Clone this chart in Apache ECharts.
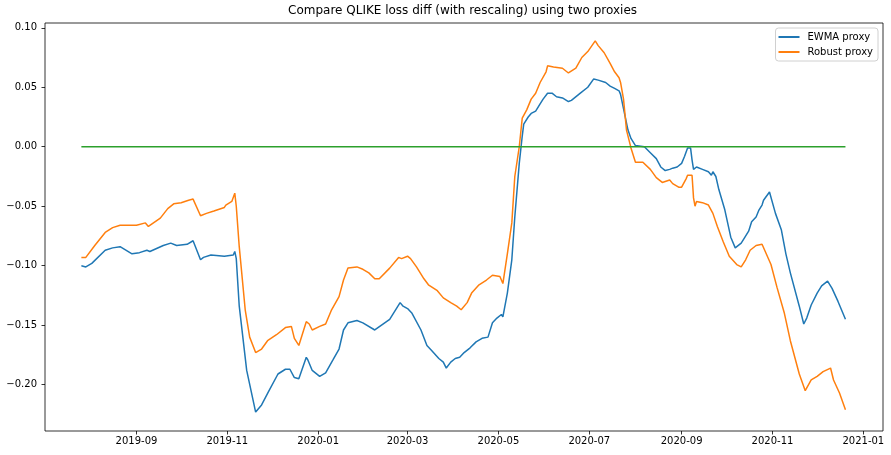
<!DOCTYPE html>
<html>
<head>
  <meta charset="utf-8">
  <script src="https://cdn.jsdelivr.net/npm/echarts@6/dist/echarts.min.js"></script>
  <style>
    body { margin: 0; background: #fff; }
    #chart { width: 891px; height: 455px; }
  </style>
</head>
<body>
  <div id="chart"></div>
  <script>
    // values
    var ewmaDates = ['2019-07-26','2019-07-29','2019-08-02','2019-08-11','2019-08-16','2019-08-21','2019-08-29','2019-09-03','2019-09-08','2019-09-10',
      '2019-09-19','2019-09-24','2019-09-28','2019-10-05','2019-10-09','2019-10-14','2019-10-16','2019-10-21','2019-10-30','2019-11-05',
      '2019-11-06','2019-11-07','2019-11-09','2019-11-14','2019-11-20','2019-11-24','2019-11-29','2019-12-05','2019-12-10','2019-12-13',
      '2019-12-16','2019-12-19','2019-12-24','2019-12-25','2019-12-28','2020-01-02','2020-01-06','2020-01-11','2020-01-15','2020-01-18',
      '2020-01-21','2020-01-27','2020-01-31','2020-02-08','2020-02-18','2020-02-25','2020-02-27','2020-03-01','2020-03-04','2020-03-10',
      '2020-03-14','2020-03-17','2020-03-22','2020-03-25','2020-03-27','2020-03-30','2020-04-02','2020-04-05','2020-04-08','2020-04-12',
      '2020-04-16','2020-04-20','2020-04-24','2020-04-27','2020-04-30','2020-05-03','2020-05-04','2020-05-07','2020-05-10','2020-05-12',
      '2020-05-15','2020-05-17','2020-05-18','2020-05-21','2020-05-23','2020-05-26','2020-05-29','2020-05-31','2020-06-03','2020-06-06',
      '2020-06-09','2020-06-13','2020-06-17','2020-06-19','2020-06-25','2020-06-30','2020-07-04','2020-07-07','2020-07-12','2020-07-15',
      '2020-07-18','2020-07-21','2020-07-22','2020-07-25','2020-07-27','2020-07-29','2020-08-01','2020-08-07','2020-08-11','2020-08-15',
      '2020-08-18','2020-08-21','2020-08-24','2020-08-26','2020-08-29','2020-09-01','2020-09-03','2020-09-05','2020-09-07','2020-09-08',
      '2020-09-09','2020-09-11','2020-09-15','2020-09-19','2020-09-21','2020-09-22','2020-09-24','2020-09-26','2020-09-30','2020-10-04',
      '2020-10-07','2020-10-11','2020-10-13','2020-10-16','2020-10-18','2020-10-21','2020-10-23','2020-10-25','2020-10-26','2020-10-30',
      '2020-11-03','2020-11-07','2020-11-10','2020-11-13','2020-11-19','2020-11-22','2020-11-24','2020-11-27','2020-12-01','2020-12-04',
      '2020-12-08','2020-12-11','2020-12-15','2020-12-20'];
    var ewmaValues = [-0.100,-0.101,-0.098,-0.087,-0.085,-0.084,-0.090,-0.089,-0.087,-0.088,
      -0.083,-0.081,-0.083,-0.082,-0.079,-0.095,-0.093,-0.091,-0.092,-0.091,
      -0.088,-0.094,-0.134,-0.188,-0.223,-0.217,-0.205,-0.191,-0.187,-0.187,
      -0.194,-0.195,-0.177,-0.179,-0.188,-0.193,-0.190,-0.179,-0.170,-0.154,
      -0.148,-0.146,-0.148,-0.154,-0.145,-0.131,-0.134,-0.136,-0.140,-0.154,
      -0.167,-0.171,-0.178,-0.181,-0.186,-0.181,-0.178,-0.177,-0.173,-0.169,
      -0.164,-0.161,-0.160,-0.148,-0.144,-0.141,-0.143,-0.123,-0.095,-0.059,
      -0.014,0.009,0.019,0.025,0.028,0.030,0.036,0.040,0.045,0.045,
      0.042,0.041,0.038,0.039,0.045,0.050,0.057,0.056,0.054,0.051,
      0.049,0.047,0.044,0.026,0.014,0.007,0.001,0.000,-0.005,-0.010,
      -0.017,-0.020,-0.019,-0.018,-0.017,-0.014,-0.008,-0.001,-0.001,-0.011,
      -0.019,-0.017,-0.019,-0.021,-0.024,-0.021,-0.025,-0.036,-0.053,-0.076,
      -0.085,-0.081,-0.077,-0.071,-0.063,-0.059,-0.053,-0.049,-0.045,-0.038,
      -0.056,-0.070,-0.090,-0.106,-0.134,-0.149,-0.144,-0.133,-0.123,-0.117,
      -0.113,-0.119,-0.130,-0.145];

    var robustDates = ['2019-07-26','2019-07-29','2019-08-04','2019-08-11','2019-08-16','2019-08-21','2019-08-25','2019-09-01','2019-09-07','2019-09-09',
      '2019-09-17','2019-09-22','2019-09-26','2019-10-01','2019-10-06','2019-10-09','2019-10-14','2019-10-18','2019-10-23','2019-10-30',
      '2019-10-31','2019-11-04','2019-11-06','2019-11-07','2019-11-09','2019-11-13','2019-11-16','2019-11-20','2019-11-24','2019-11-28',
      '2019-12-04','2019-12-10','2019-12-14','2019-12-16','2019-12-19','2019-12-22','2019-12-24','2019-12-26','2019-12-28','2020-01-02',
      '2020-01-06','2020-01-10','2020-01-15','2020-01-18','2020-01-21','2020-01-27','2020-01-31','2020-02-04','2020-02-08','2020-02-11',
      '2020-02-18','2020-02-24','2020-02-26','2020-03-01','2020-03-03','2020-03-07','2020-03-12','2020-03-15','2020-03-21','2020-03-25',
      '2020-03-30','2020-04-03','2020-04-06','2020-04-10','2020-04-13','2020-04-18','2020-04-23','2020-04-27','2020-05-02','2020-05-04',
      '2020-05-07','2020-05-10','2020-05-12','2020-05-15','2020-05-17','2020-05-20','2020-05-23','2020-05-26','2020-05-29','2020-06-02',
      '2020-06-03','2020-06-07','2020-06-13','2020-06-17','2020-06-22','2020-06-26','2020-06-30','2020-07-05','2020-07-07','2020-07-11',
      '2020-07-15','2020-07-18','2020-07-21','2020-07-22','2020-07-24','2020-07-26','2020-07-29','2020-08-01','2020-08-06','2020-08-11',
      '2020-08-15','2020-08-19','2020-08-24','2020-08-26','2020-08-30','2020-09-01','2020-09-04','2020-09-05','2020-09-08','2020-09-09',
      '2020-09-10','2020-09-11','2020-09-15','2020-09-19','2020-09-22','2020-09-25','2020-09-29','2020-10-03','2020-10-08','2020-10-11',
      '2020-10-14','2020-10-17','2020-10-21','2020-10-25','2020-10-31','2020-11-04','2020-11-09','2020-11-13','2020-11-19','2020-11-23',
      '2020-11-27','2020-12-01','2020-12-05','2020-12-10','2020-12-12','2020-12-16','2020-12-20'];
    var robustValues = [-0.093,-0.093,-0.083,-0.072,-0.068,-0.066,-0.066,-0.066,-0.064,-0.067,
      -0.060,-0.052,-0.048,-0.047,-0.045,-0.044,-0.058,-0.056,-0.054,-0.051,
      -0.049,-0.046,-0.039,-0.050,-0.084,-0.137,-0.160,-0.173,-0.170,-0.163,
      -0.158,-0.152,-0.151,-0.161,-0.167,-0.155,-0.147,-0.149,-0.154,-0.151,
      -0.149,-0.137,-0.126,-0.112,-0.102,-0.101,-0.103,-0.106,-0.111,-0.111,
      -0.102,-0.093,-0.094,-0.092,-0.094,-0.101,-0.111,-0.116,-0.121,-0.127,
      -0.131,-0.134,-0.137,-0.131,-0.123,-0.116,-0.112,-0.108,-0.109,-0.115,
      -0.090,-0.064,-0.025,0.000,0.024,0.031,0.040,0.045,0.054,0.063,
      0.068,0.067,0.066,0.062,0.066,0.075,0.080,0.089,0.085,0.079,
      0.070,0.063,0.058,0.054,0.040,0.014,-0.001,-0.013,-0.013,-0.019,
      -0.026,-0.030,-0.028,-0.031,-0.034,-0.034,-0.027,-0.024,-0.024,-0.043,
      -0.050,-0.046,-0.047,-0.049,-0.056,-0.067,-0.080,-0.092,-0.099,-0.101,
      -0.095,-0.087,-0.083,-0.082,-0.099,-0.118,-0.140,-0.163,-0.191,-0.205,
      -0.196,-0.193,-0.189,-0.186,-0.196,-0.207,-0.221];

    var zeroDates = ['2019-07-26', '2020-12-20'];
    var zeroValues = [0, 0];

    var xTickDates = ['2019-09-01','2019-11-01','2020-01-01','2020-03-01','2020-05-01','2020-07-01','2020-09-01','2020-11-01','2021-01-01'];
    var yTicks = [-0.20, -0.15, -0.10, -0.05, 0.00, 0.05, 0.10];

    function toTime(s) {
      var p = s.split('-').map(Number);
      return Date.UTC(p[0], p[1] - 1, p[2]);
    }
    function pairs(dates, values) {
      return dates.map(function (d, i) { return [toTime(d), values[i]]; });
    }
    function pad(n) { return n < 10 ? '0' + n : '' + n; }

    var FONT = 'DejaVu Sans';
    var chart = echarts.init(document.getElementById('chart'), null, { renderer: 'canvas' });

    var option = {
      backgroundColor: '#fff',
      animation: false,
      title: {
        text: 'Compare QLIKE loss diff (with rescaling) using two proxies',
        left: 288,
        top: 5,
        padding: 0,
        textStyle: { fontFamily: FONT, fontSize: 12, fontWeight: 'normal', color: '#000' }
      },
      legend: {
        data: ['EWMA proxy', 'Robust proxy'],
        orient: 'vertical',
        right: 13,
        top: 28,
        padding: [4, 5, 4, 3],
        itemGap: 5,
        icon: 'rect',
        itemWidth: 21,
        itemHeight: 2,
        borderColor: '#d0d0d0',
        borderWidth: 1,
        borderRadius: 3,
        backgroundColor: 'rgba(255,255,255,0.8)',
        textStyle: { fontFamily: FONT, fontSize: 10, lineHeight: 10, color: '#000', padding: [0, 0, 0, 3] }
      },
      grid: {
        left: 45, right: 8, top: 23, bottom: 24,
        show: true, borderColor: '#000', borderWidth: 0.8
      },
      xAxis: {
        type: 'value',
        min: Date.UTC(2019, 6, 1, 14),
        max: Date.UTC(2021, 0, 14, 5),
        splitLine: { show: false },
        axisLine: { show: false, onZero: false },
        axisTick: {
          show: true, length: 3.5, inside: false,
          lineStyle: { color: '#000', width: 0.8 },
          customValues: xTickDates.map(toTime)
        },
        axisLabel: {
          customValues: xTickDates.map(toTime),
          margin: 5,
          fontFamily: FONT, fontSize: 10, color: '#000',
          formatter: function (v) {
            var d = new Date(v);
            return d.getUTCFullYear() + '-' + pad(d.getUTCMonth() + 1);
          }
        }
      },
      yAxis: {
        type: 'value',
        min: -0.2389,
        max: 0.1040,
        splitLine: { show: false },
        axisLine: { show: false, onZero: false },
        axisTick: {
          show: true, length: 3.5, inside: false,
          lineStyle: { color: '#000', width: 0.8 },
          customValues: yTicks
        },
        axisLabel: {
          customValues: yTicks,
          margin: 8,
          fontFamily: FONT, fontSize: 10, color: '#000',
          formatter: function (v) {
            var s = (Math.abs(v) < 1e-9 ? 0 : v).toFixed(2);
            return s.replace('-', '\u2212');
          }
        }
      },
      series: [
        {
          name: 'EWMA proxy', type: 'line', symbol: 'none',
          data: pairs(ewmaDates, ewmaValues),
          lineStyle: { color: '#1f77b4', width: 1.5 }, itemStyle: { color: '#1f77b4' }
        },
        {
          name: 'Robust proxy', type: 'line', symbol: 'none',
          data: pairs(robustDates, robustValues),
          lineStyle: { color: '#ff7f0e', width: 1.5 }, itemStyle: { color: '#ff7f0e' }
        },
        {
          name: 'zero', type: 'line', symbol: 'none',
          data: pairs(zeroDates, zeroValues),
          lineStyle: { color: '#2ca02c', width: 1.5 }, itemStyle: { color: '#2ca02c' }
        }
      ]
    };

    chart.setOption(option);
  </script>
</body>
</html>
